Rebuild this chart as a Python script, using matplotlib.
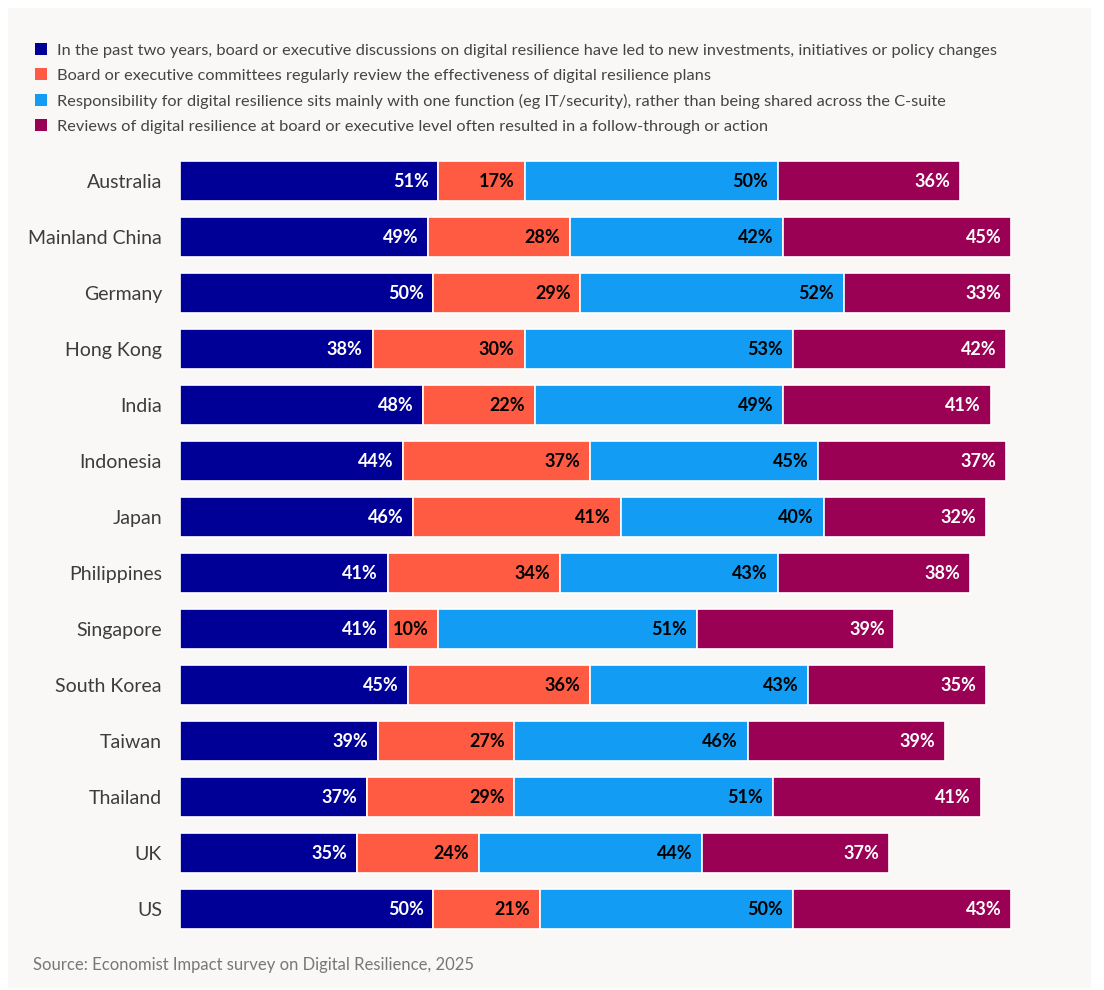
import matplotlib.pyplot as plt
from matplotlib.patches import Patch, Rectangle
import numpy as np

plt.rcParams['font.family'] = ['Lato', 'DejaVu Sans']

countries = ['Australia', 'Mainland China', 'Germany', 'Hong Kong', 'India', 'Indonesia', 'Japan',
             'Philippines', 'Singapore', 'South Korea', 'Taiwan', 'Thailand', 'UK', 'US']
new_investments = [51, 49, 50, 38, 48, 44, 46, 41, 41, 45, 39, 37, 35, 50]
regular_review = [17, 28, 29, 30, 22, 37, 41, 34, 10, 36, 27, 29, 24, 21]
single_function = [50, 42, 52, 53, 49, 45, 40, 43, 51, 43, 46, 51, 44, 50]
follow_through = [36, 45, 33, 42, 41, 37, 32, 38, 39, 35, 39, 41, 37, 43]

series_labels = [
    'In the past two years, board or executive discussions on digital resilience have led to new investments, initiatives or policy changes',
    'Board or executive committees regularly review the effectiveness of digital resilience plans',
    'Responsibility for digital resilience sits mainly with one function (eg IT/security), rather than being shared across the C-suite',
    'Reviews of digital resilience at board or executive level often resulted in a follow-through or action',
]
colors = ['#000096', '#ff5b43', '#129cf4', '#9a0054']
text_colors = ['white', 'black', 'black', 'white']

bg = '#f9f8f6'
fig = plt.figure(figsize=(11.04, 9.9), dpi=100, facecolor='white')
fig.patches.append(Rectangle((8 / 1104, 2 / 990), 1083 / 1104, 980 / 990, transform=fig.transFigure,
                             facecolor=bg, edgecolor='none', zorder=-10))

ax = fig.add_axes([180 / 1104, 53 / 990, 831 / 1104, 784 / 990])
ax.patch.set_alpha(0)

y = np.arange(len(countries))
left = np.zeros(len(countries))
for vals, col, tcol, lab in zip([new_investments, regular_review, single_function, follow_through],
                                colors, text_colors, series_labels):
    vals = np.array(vals, dtype=float)
    ax.barh(y, vals, left=left, height=0.7, color=col, edgecolor='white', linewidth=1.2, label=lab)
    for yi, l, v in zip(y, left, vals):
        ax.annotate(f'{int(v)}%', xy=(l + v, yi), xytext=(-7, 0), textcoords='offset points',
                    ha='right', va='center', color=tcol, fontsize=13, fontweight='bold')
    left += vals

ax.set_xlim(0, 164)
ax.set_ylim(len(countries) - 0.5, -0.5)
ax.set_yticks(y)
ax.set_yticklabels(countries, fontsize=14, color='#3c3c3c')
ax.tick_params(axis='y', length=0, pad=13)
ax.set_xticks([])
for s in ax.spines.values():
    s.set_visible(False)

# legend: one row per series, small square swatches
handles = [Patch(facecolor=c, edgecolor='none') for c in colors]
fig.legend(handles, series_labels, loc='upper left', bbox_to_anchor=(35 / 1104, 1 - 43 / 990),
           frameon=False, fontsize=11.8, labelcolor='#444444', handlelength=0.75, handleheight=0.75,
           handletextpad=0.6, labelspacing=0.65, borderaxespad=0, borderpad=0)

fig.text(33 / 1104, 1 - 965 / 990, 'Source: Economist Impact survey on Digital Resilience, 2025',
         fontsize=12, color='#777777', va='center', ha='left')

fig.savefig('out.png', dpi=100, facecolor='white')
plt.close()
